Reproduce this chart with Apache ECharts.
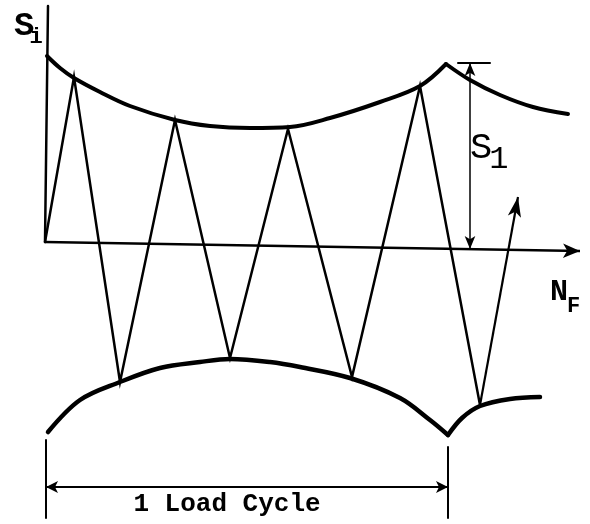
<!DOCTYPE html>
<html>
<head>
<meta charset="utf-8">
<script src="https://cdn.jsdelivr.net/npm/echarts@6/dist/echarts.min.js"></script>
<style>
  html, body { margin: 0; padding: 0; background: #fff; }
  #chart { width: 590px; height: 524px; }
</style>
</head>
<body>
<div id="chart"></div>
<script>
// Diagram units: N runs along the cycle axis from the origin, S is stress (+ up, - down).

// Upper stress envelope, before and after the cusp at the end of the load cycle
const upperEnvelope = [[2,186],[15,174],[29,164],[55,150],[85,136],[130,122],[165,116],[205,114],[245,115],[285,124],[335,140],[375,156],[401,178]];
const upperEnvelopeNext = [[401,178],[425,162],[455,147],[488,135],[523,128]];

// Lower stress envelope
const lowerEnvelope = [[3,-190],[35,-158],[75,-140],[115,-126],[155,-120],[185,-117],[225,-120],[255,-125],[305,-136],[355,-156],[385,-178],[403,-193]];
const lowerEnvelopeNext = [[403,-193],[417,-176],[435,-164],[465,-157],[495,-155]];

// Stress reversals (peaks and troughs) within one load cycle
const reversals = [[0,0],[29,165],[75,-140],[130,122],[185,-116],[243,113],[307,-135],[375,156],[435,-163]];
const continuation = [[435,-163],[473,45]];

// Axes and dimension lines
const stressAxis = [[3,236],[0,0]];
const cycleAxis = [[0,0],[535,-9]];
const s1Dimension = [[425,179],[425,-7]];
const s1Cap = [[413,179],[445,179]];
const cycleDimension = [[1,-245],[403,-245]];
const cycleStartTick = [[1,-198],[1,-276]];
const cycleEndTick = [[403,-205],[403,-276]];

const labels = {
  stressTop: ['S', 'i'],
  stressRange: ['S', '1'],
  cycles: ['N', 'F'],
  loadCycle: '1 Load Cycle'
};

const ink = '#000';

function curve(data, width) {
  return {
    type: 'line', data: data, smooth: 0.35, symbol: 'none', silent: true,
    lineStyle: { color: ink, width: width, cap: 'round', join: 'round' }
  };
}
function straight(data, width) {
  return {
    type: 'line', data: data, smooth: false, symbol: 'none', silent: true,
    lineStyle: { color: ink, width: width, cap: 'round', join: 'miter' }
  };
}
function arrowLine(seg, width, startSym, endSym, size) {
  return [
    { coord: seg[0], symbol: startSym, symbolSize: size },
    { coord: seg[1], symbol: endSym, symbolSize: size, lineStyle: { color: ink, width: width, type: 'solid' } }
  ];
}

const chart = echarts.init(document.getElementById('chart'));
chart.setOption({
  animation: false,
  backgroundColor: '#fff',
  grid: { left: 0, right: 0, top: 0, bottom: 0 },
  xAxis: { type: 'value', min: -45, max: 545, show: false },
  yAxis: { type: 'value', min: -282, max: 242, show: false },
  series: [
    curve(upperEnvelope, 4),
    curve(upperEnvelopeNext, 4),
    curve(lowerEnvelope, 4.5),
    curve(lowerEnvelopeNext, 4.5),
    straight(reversals, 2.5),
    straight(stressAxis, 2.5),
    straight(s1Cap, 2),
    straight(cycleStartTick, 2),
    straight(cycleEndTick, 2),
    {
      type: 'line', data: [], silent: true,
      markLine: {
        silent: true,
        animation: false,
        label: { show: false },
        emphasis: { disabled: true },
        lineStyle: { color: ink, type: 'solid' },
        data: [
          arrowLine(cycleAxis, 2.5, 'none', 'arrow', [11, 17]),
          arrowLine(continuation, 2.2, 'none', 'arrow', [10, 20]),
          arrowLine(s1Dimension, 1.5, 'arrow', 'arrow', [8, 13]),
          arrowLine(cycleDimension, 2, 'arrow', 'arrow', [9, 12])
        ]
      }
    }
  ],
  graphic: [
    {
      type: 'text', left: 14, top: 9,
      style: {
        text: '{a|' + labels.stressTop[0] + '}{b|' + labels.stressTop[1] + '}',
        rich: {
          a: { fontFamily: 'Liberation Mono', fontWeight: 'bold', fontSize: 34, fill: ink },
          b: { fontFamily: 'Liberation Mono', fontWeight: 'bold', fontSize: 22, fill: ink, padding: [22, 0, 0, -5] }
        }
      }
    },
    {
      type: 'text', left: 470, top: 130,
      style: {
        text: '{a|' + labels.stressRange[0] + '}{b|' + labels.stressRange[1] + '}',
        rich: {
          a: { fontFamily: 'Liberation Mono', fontSize: 37, fill: ink },
          b: { fontFamily: 'Liberation Mono', fontSize: 32, fill: ink, padding: [22, 0, 0, -3] }
        }
      }
    },
    {
      type: 'text', left: 550, top: 277,
      style: {
        text: '{a|' + labels.cycles[0] + '}{b|' + labels.cycles[1] + '}',
        rich: {
          a: { fontFamily: 'Liberation Mono', fontWeight: 'bold', fontSize: 30, fill: ink },
          b: { fontFamily: 'Liberation Mono', fontWeight: 'bold', fontSize: 22, fill: ink, padding: [28, 0, 0, -1] }
        }
      }
    },
    {
      type: 'text', x: 227, y: 504,
      style: {
        text: labels.loadCycle,
        fontFamily: 'Liberation Mono', fontWeight: 'bold', fontSize: 26, fill: ink,
        align: 'center', verticalAlign: 'middle'
      }
    }
  ]
});
</script>
</body>
</html>
